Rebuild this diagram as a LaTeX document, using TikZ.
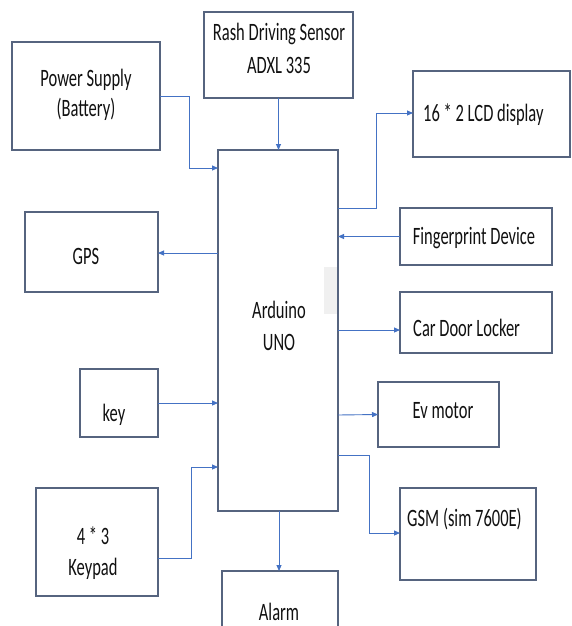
\documentclass[tikz,border=0pt]{standalone}
\usepackage{fontspec}
\setmainfont{Carlito}[FakeStretch=0.66]
\usetikzlibrary{arrows.meta}
\definecolor{boxline}{HTML}{56647F}
\definecolor{arrblue}{HTML}{4472C4}
\definecolor{txt}{HTML}{111111}
\tikzset{
  blk/.style={draw=boxline, line width=1.2pt, inner sep=0pt, outer sep=0pt},
  lbl/.style={text=txt, inner sep=0pt, align=center, font=\fontsize{25}{31}\selectfont},
  arr/.style={draw=arrblue, line width=0.9pt, -{Triangle[length=6pt,width=5pt]}}
}
\begin{document}
\begin{tikzpicture}[x=1pt,y=-1pt]
\clip (0,0) rectangle (571,626);
\fill[white] (0,0) rectangle (571,626);
% boxes (centres and sizes from the reference)
\node[blk, minimum width=148pt, minimum height=108pt] (power) at (86,96) {};
\node[blk, minimum width=149pt, minimum height=86pt] (rash) at (278.5,55) {};
\node[blk, minimum width=120pt, minimum height=361pt] (ard) at (278,330.5) {};
\node[blk, minimum width=133pt, minimum height=80pt] (gps) at (91.5,252) {};
\node[blk, minimum width=78pt, minimum height=68pt] (key) at (119,403) {};
\node[blk, minimum width=122pt, minimum height=108pt] (keypad) at (97,542) {};
\node[blk, minimum width=116pt, minimum height=80pt] (alarm) at (280,611) {};
\node[blk, minimum width=157pt, minimum height=86pt] (lcd) at (491.5,114) {};
\node[blk, minimum width=152pt, minimum height=57pt] (finger) at (476,236.5) {};
\node[blk, minimum width=152pt, minimum height=61pt] (car) at (476,322.5) {};
\node[blk, minimum width=121pt, minimum height=65pt] (ev) at (438.5,414.5) {};
\node[blk, minimum width=136pt, minimum height=92pt] (gsm) at (468,534) {};
% faint grey patch inside the controller box
\fill[black!6] (324,267) rectangle (337,314);
% texts
\node[lbl, font=\fontsize{25}{30}\selectfont] (tpower) at (86,95) {Power Supply\\(Battery)};
\node[lbl, font=\fontsize{25}{33}\selectfont] (trash) at (279,48) {Rash Driving Sensor\\ADXL 335};
\node[lbl] (tgps) at (86,256) {GPS};
\node[lbl, font=\fontsize{25}{32}\selectfont] (tard) at (279,326) {Arduino\\UNO};
\node[lbl] (tkey) at (114,415) {key};
\node[lbl] (tkeypad) at (93,553) {4 * 3\\Keypad};
\node[lbl] (talarm) at (279,612) {Alarm};
\node[lbl, anchor=west] (tlcd) at (423,115) {16 * 2 LCD display};
\node[lbl] (tfinger) at (474,238) {Fingerprint Device};
\node[lbl, anchor=west] (tcar) at (413,328) {Car Door Locker};
\node[lbl] (tev) at (443,411) {Ev motor};
\node[lbl, anchor=west] (tgsm) at (407,519) {GSM (sim 7600E)};
% connectors
\draw[arr] (power.east) -- ++(29,0) |- (ard.west |- 0,168);
\draw[arr] (rash.south) -- (rash.south |- ard.north);
\draw[arr] (ard.west |- 0,253) -- (gps.east |- 0,253);
\draw[arr] (key.east) -- (ard.west |- key.east);
\draw[arr] (keypad.east |- 0,558) -- (191,558) |- (ard.west |- 0,467);
\draw[arr] (ard.south -| 279,0) -- (alarm.north -| 279,0);
\draw[arr] (ard.east |- 0,208) -- (376,208) |- (lcd.west |- 0,113);
\draw[arr] (finger.west) -- (ard.east |- finger.west);
\draw[arr] (ard.east |- 0,330) -- (car.west |- 0,330);
\draw[arr] (ard.east |- 0,415) -- (ev.west);
\draw[arr] (ard.east |- 0,455) -- (369,455) |- (gsm.west |- 0,533);
\end{tikzpicture}
\end{document}
